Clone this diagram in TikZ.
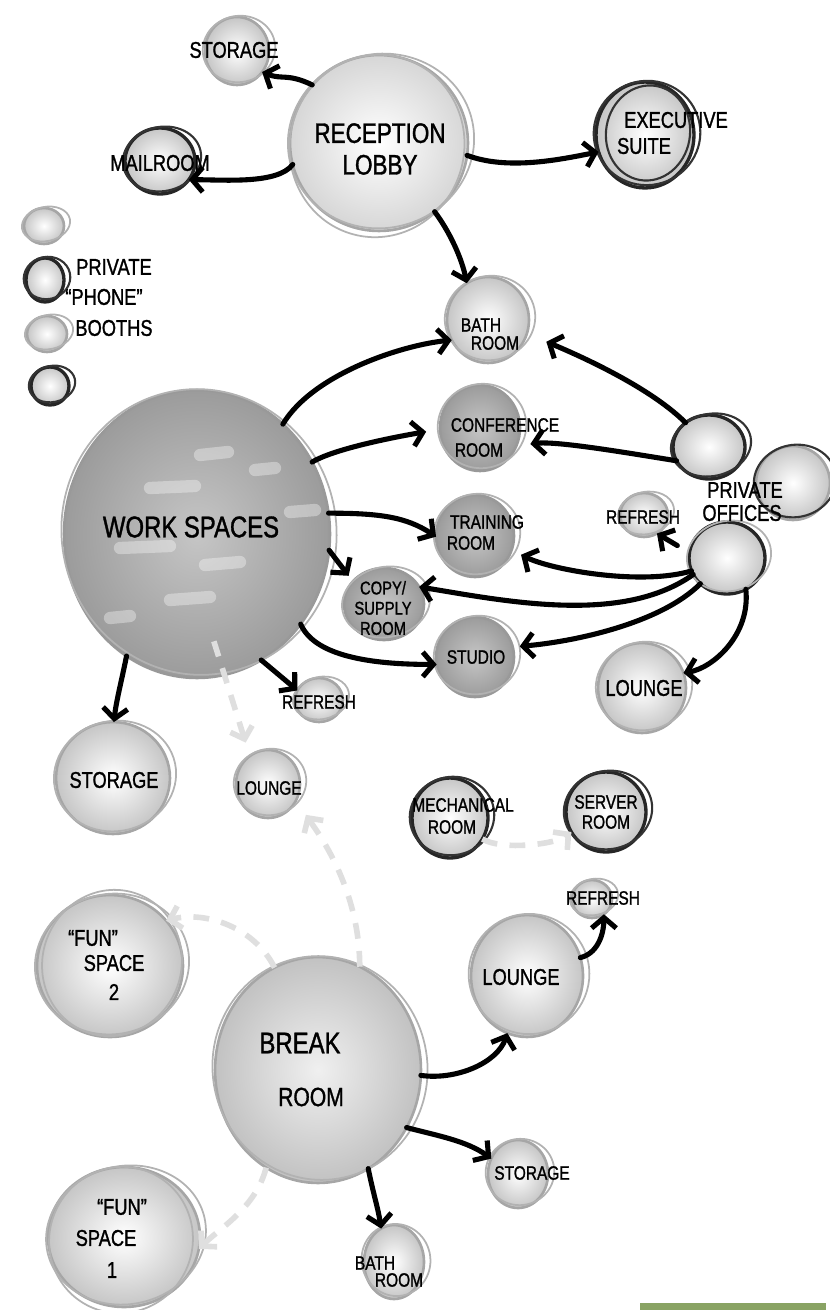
\documentclass[tikz,border=0pt]{standalone}
\usepackage{fontspec}
\newfontfamily\hand[FakeStretch=0.8,FakeBold=1.2]{Liberation Sans}
\usetikzlibrary{arrows.meta,shapes.geometric,calc}
\definecolor{barg}{RGB}{137,163,100}
\newcommand\bub[7]{%
 \node[bubble,minimum width={#4*0.04cm},minimum height={#5*0.04cm},#6] (#1) at (#2,#3) {};
 \node[ring,minimum width={#4*0.04cm+5pt},minimum height={#5*0.04cm-1pt},rotate=12,#7] (#1-r) at (#2+2,#3-2) {};
}
\tikzset{
 bubble/.style={ellipse, inner sep=0pt, outer sep=0pt, draw=gray!70, line width=1.5pt, inner color=white, outer color=gray!45},
 ring/.style={ellipse, inner sep=0pt, outer sep=0pt, draw=gray!60, line width=1pt},
 darkb/.style={inner color=gray!45, outer color=gray!78, draw=gray!80},
 blkb/.style={draw=black!85, line width=1.9pt},
 blkr/.style={draw=black!80, line width=1.2pt},
 lightb/.style={inner color=white, outer color=gray!32},
 brkb/.style={inner color=gray!12, outer color=gray!48},
 lbl/.style={inner sep=0pt, align=center, text=black},
 bigt/.style={lbl, font=\hand\fontsize{16}{18}\selectfont},
 medt/.style={lbl, font=\hand\fontsize{13}{15}\selectfont},
 smlt/.style={lbl, font=\hand\fontsize{11}{12}\selectfont},
 arr/.style={draw=black, line width=2.9pt, line cap=round, -{Straight Barb[length=6pt,width=14pt]}},
 garr/.style={draw=gray!25, line width=3.2pt, dash pattern=on 9pt off 7pt, -{Straight Barb[length=6pt,width=13pt]}},
 streak/.style={white, opacity=0.35, line width=7pt, line cap=round}
}
\begin{document}
\begin{tikzpicture}[x=0.02cm,y=-0.02cm]
\useasboundingbox (0,0) rectangle (830,1310);
% bubbles
\bub{stor1}{237}{51}{32}{34}{}{}
\bub{lobby}{379}{143}{89}{88}{lightb}{}
\node[ring,minimum width={89*0.04cm-2pt},minimum height={88*0.04cm+4pt},rotate=-15] (lobby-r2) at (377,146) {};
\bub{mail}{160}{161}{35}{33}{blkb}{blkr}
\bub{exec}{645}{135}{49}{53}{blkb}{blkr}
\node[ring,blkr,minimum width={49*0.04cm-8pt},minimum height={53*0.04cm-6pt},rotate=-10] (exec-r2) at (648,133) {};
\bub{leg1}{44}{226}{20}{18}{}{}
\bub{leg2}{45}{280}{19}{22}{blkb}{blkr}
\bub{leg3}{47}{334}{20}{18}{}{}
\bub{leg4}{50}{386}{19}{19}{blkb}{blkr}
\bub{bath1}{488}{320}{41}{43}{}{}
\bub{conf}{480}{428}{40}{43}{darkb}{}
\bub{train}{475}{536}{39}{41}{darkb}{}
\bub{copy}{384}{604}{40}{36}{darkb}{}
\bub{studio}{475}{657}{39}{40}{darkb}{}
\bub{ws}{197}{534}{133}{144}{darkb}{}
\bub{po1}{709}{447}{36}{32}{blkb}{blkr}
\bub{po2}{793}{483}{37}{37}{}{blkr}
\bub{po3}{727}{558}{38}{36}{blkb}{}
\bub{refR}{644}{515}{24}{22}{}{}
\bub{loungeR}{642}{688}{44}{45}{}{}
\bub{ref1}{319}{700}{24}{22}{}{}
\bub{stor2}{113}{778}{57}{56}{}{}
\bub{loungeL}{268}{784}{32}{34}{}{}
\bub{mech}{450}{818}{38}{40}{blkb}{blkr}
\bub{serv}{606}{812}{40}{40}{blkb}{blkr}
\bub{ref3}{592}{899}{20}{19}{}{}
\bub{loungeB}{527}{976}{56}{61}{}{}
\bub{brk}{318}{1070}{103}{113}{brkb}{}
\bub{fun2}{110}{966}{73}{71}{}{}
\node[ring,minimum width={73*0.04cm-4pt},minimum height={71*0.04cm+3pt},rotate=-20] (fun2-r2) at (112,963) {};
\bub{fun1}{124}{1237}{76}{70}{}{}
\node[ring,minimum width={76*0.04cm-5pt},minimum height={70*0.04cm+4pt},rotate=-25] (fun1-r2) at (121,1240) {};
\bub{stor3}{518}{1174}{30}{34}{}{}
\bub{bath2}{394}{1262}{30}{37}{}{}
% highlights on work spaces
\draw[streak] (200,455) -- (228,452);
\draw[streak] (150,488) -- (195,486);
\draw[streak] (255,470) -- (275,468);
\draw[streak] (290,512) -- (315,510);
\draw[streak] (120,548) -- (170,546);
\draw[streak] (205,565) -- (240,562);
\draw[streak] (170,600) -- (210,597);
\draw[streak] (110,618) -- (130,616);
% labels
\node[medt] (t-stor1) at (234,50) {STORAGE};
\node[bigt] (t-lobby) at (380,149) {RECEPTION\\LOBBY};
\node[medt] (t-mail) at (160,163) {MAILROOM};
\node[medt] (t-exec1) at (676,120) {EXECUTIVE};
\node[medt] (t-exec2) at (644,146) {SUITE};
\node[medt] (t-leg1) at (114,267) {PRIVATE};
\node[medt] (t-leg2) at (104,297) {“PHONE”};
\node[medt] (t-leg3) at (114,328) {BOOTHS};
\node[smlt] (t-bath1a) at (481,325) {BATH};
\node[smlt] (t-bath1b) at (495,343) {ROOM};
\node[smlt] (t-conf1) at (505,425) {CONFERENCE};
\node[smlt] (t-conf2) at (479,450) {ROOM};
\node[smlt] (t-train1) at (487,522) {TRAINING};
\node[smlt] (t-train2) at (471,543) {ROOM};
\node[lbl, font=\hand\fontsize{10.5}{11.5}\selectfont] (t-copy) at (383,608) {COPY/\\SUPPLY\\ROOM};
\node[smlt] (t-studio) at (476,657) {STUDIO};
\node[lbl, font=\hand\fontsize{17}{19}\selectfont] (t-ws) at (191,527) {WORK SPACES};
\node[medt] (t-po1) at (745,490) {PRIVATE};
\node[medt] (t-po2) at (742,513) {OFFICES};
\node[smlt] (t-refR) at (643,517) {REFRESH};
\node[medt] (t-loungeR) at (644,688) {LOUNGE};
\node[smlt] (t-ref1) at (319,702) {REFRESH};
\node[medt] (t-stor2) at (114,780) {STORAGE};
\node[smlt] (t-loungeL) at (269,788) {LOUNGE};
\node[smlt] (t-mech1) at (463,805) {MECHANICAL};
\node[smlt] (t-mech2) at (452,827) {ROOM};
\node[smlt] (t-serv1) at (606,802) {SERVER};
\node[smlt] (t-serv2) at (606,822) {ROOM};
\node[smlt] (t-ref3) at (603,898) {REFRESH};
\node[medt] (t-loungeB) at (521,977) {LOUNGE};
\node[lbl, font=\hand\fontsize{17}{19}\selectfont] (t-brk1) at (300,1043) {BREAK};
\node[lbl, font=\hand\fontsize{15}{17}\selectfont] (t-brk2) at (311,1097) {ROOM};
\node[medt] (t-fun2a) at (93,938) {“FUN”};
\node[medt] (t-fun2b) at (114,963) {SPACE};
\node[medt] (t-fun2c) at (114,992) {2};
\node[medt] (t-fun1a) at (122,1207) {“FUN”};
\node[medt] (t-fun1b) at (106,1238) {SPACE};
\node[medt] (t-fun1c) at (112,1270) {1};
\node[smlt] (t-stor3) at (532,1173) {STORAGE};
\node[smlt] (t-bath2a) at (375,1263) {BATH};
\node[smlt] (t-bath2b) at (399,1280) {ROOM};
% black arrows
\draw[arr] (lobby.139) .. controls +(-25,-12) and +(20,8) .. (stor1.-40);
\draw[arr] (lobby.194) .. controls +(-15,20) and +(35,0) .. (mail.-33);
\draw[arr] (lobby.-8) .. controls +(40,15) and +(-40,8) .. (exec.200);
\draw[arr] (lobby.-51) .. controls +(15,20) and +(-5,-25) .. (bath1.120);
\draw[arr] (ws.52) .. controls +(30,-50) and +(-50,5) .. (bath1.209);
\draw[arr, shorten >=8pt] (ws.32) .. controls +(25,-15) and +(-30,5) .. (conf.182);
\draw[arr, shorten >=12pt] (po1.134) .. controls +(-40,-40) and +(35,15) .. (bath1.-19);
\draw[arr, shorten >=8pt] (po1.203) .. controls +(-50,-8) and +(40,-5) .. (conf.-26);
\draw[arr] (ws.9) .. controls +(50,0) and +(-30,-20) .. (train.181);
\draw[arr, shorten >=4pt] (ws.-7) -- (copy.144);
\draw[arr, shorten <=8pt] (po3.172) -- (refR.-55);
\draw[arr, shorten >=6pt] (po3.200) .. controls +(-50,15) and +(40,20) .. (train.-21);
\draw[arr] (po3.206) .. controls +(-70,50) and +(90,15) .. (copy.26);
\draw[arr, shorten >=4pt] (po3.224) .. controls +(-40,40) and +(60,-5) .. (studio.15);
\draw[arr] (po3.-59) .. controls +(5,45) and +(30,-5) .. (loungeR.20);
\draw[arr] (ws.-41) .. controls +(15,35) and +(-55,0) .. (studio.191);
\draw[arr] (ws.-120) .. controls +(-5,25) and +(2,-20) .. (stor2.89);
\draw[arr] (ws.-63) -- (ref1.156);
\draw[arr] (brk.-3) .. controls +(35,5) and +(-10,30) .. (loungeB.-109);
\draw[arr] (loungeB.19) .. controls +(20,-5) and +(0,15) .. (ref3.-52);
\draw[arr] (brk.-33) .. controls +(30,8) and +(-25,-18) .. (stor3.150);
\draw[arr] (brk.-63) .. controls +(5,25) and +(-3,-20) .. (bath2.111);
% gray dashed arrows
\draw[garr, shorten >=8pt, shorten <=-20pt] (ws.-79) -- (loungeL.123);
\draw[garr, shorten >=10pt] (brk.68) .. controls +(0,-80) and +(20,30) .. (loungeL.-30);
\draw[garr] (brk.113) .. controls +(-20,-40) and +(40,-10) .. (fun2.39);
\draw[garr] (brk.-118) .. controls +(-10,40) and +(20,-20) .. (fun1.-9);
\draw[garr] (mech.-33) .. controls +(20,12) and +(-15,12) .. (serv.210);
% green bar
\fill[barg] (640,1303) rectangle (826,1310);
\end{tikzpicture}
\end{document}
